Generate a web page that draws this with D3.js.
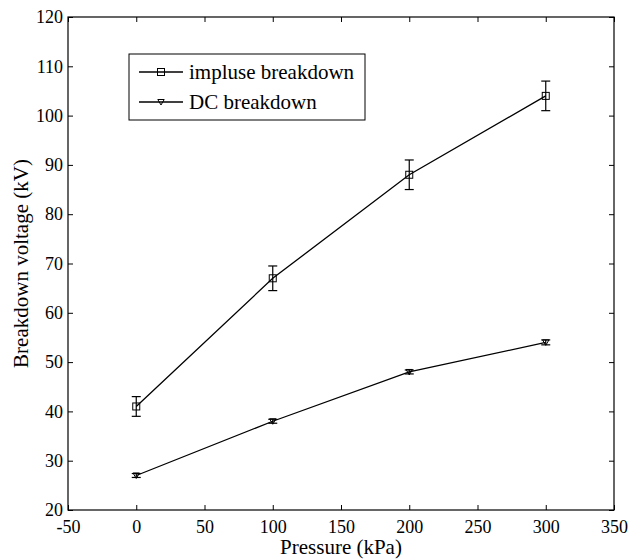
<!DOCTYPE html>
<html><head><meta charset="utf-8">
<script src="https://cdn.jsdelivr.net/npm/d3@7"></script>
<style>body{margin:0;background:#fff}svg{display:block}text{font-family:"Liberation Serif","Times New Roman",serif;fill:#000}</style>
</head><body><svg id="c" width="632" height="560"></svg>
<script>
const pressure = [0, 100, 200, 300];
const impulse = [41, 67, 88, 104];
const impulseErr = [2, 2.5, 3, 3];
const dc = [27, 38, 48, 54];
const dcErr = [0.4, 0.4, 0.4, 0.5];
const xTicks = [-50, 0, 50, 100, 150, 200, 250, 300, 350];
const yTicks = [20, 30, 40, 50, 60, 70, 80, 90, 100, 110, 120];
const seriesNames = ["impluse breakdown", "DC breakdown"];

const svg = d3.select("#c");
const L = 68, R = 614, T = 17, B = 510;
const x = d3.scaleLinear().domain([-50, 350]).range([L, R]);
const y = d3.scaleLinear().domain([20, 120]).range([B, T]);
const fmt = d => String(d);
const serif = "'Liberation Serif', 'Times New Roman', serif";

const g = svg.append("g");
g.append("g").attr("transform", `translate(0,${B})`)
  .call(d3.axisBottom(x).tickValues(xTicks).tickSize(-5).tickPadding(10).tickFormat(fmt));
g.append("g").attr("transform", `translate(${L},0)`)
  .call(d3.axisLeft(y).tickValues(yTicks).tickSize(-5).tickPadding(5).tickFormat(fmt));
g.append("g").attr("transform", `translate(0,${T})`)
  .call(d3.axisTop(x).tickValues(xTicks).tickSize(-5).tickFormat(""));
g.append("g").attr("transform", `translate(${R},0)`)
  .call(d3.axisRight(y).tickValues(yTicks).tickSize(-5).tickFormat(""));
g.selectAll("g").attr("font-family", serif).attr("font-size", 18);
g.selectAll(".domain").remove();
g.selectAll(".tick line").attr("stroke", "#000").attr("stroke-width", 1);
g.selectAll(".tick text").attr("font-family", serif).style("font-family", serif).style("font-size", "18px");
svg.append("rect").attr("x", L).attr("y", T).attr("width", R - L).attr("height", B - T)
  .attr("fill", "none").attr("stroke", "#000").attr("stroke-width", 1.2);

function drawSeries(vals, errs, marker) {
  const data = pressure.map((p, i) => ({p, v: vals[i], e: errs[i]}));
  svg.append("path").datum(data)
    .attr("d", d3.line().x(d => x(d.p)).y(d => y(d.v)))
    .attr("fill", "none").attr("stroke", "#000").attr("stroke-width", 1.3);
  const eb = svg.append("g").attr("stroke", "#000").attr("stroke-width", 1.2);
  data.forEach(d => {
    const cx = x(d.p), y1 = y(d.v + d.e), y0 = y(d.v - d.e);
    eb.append("line").attr("x1", cx).attr("x2", cx).attr("y1", y1).attr("y2", y0);
    eb.append("line").attr("x1", cx - 4.5).attr("x2", cx + 4.5).attr("y1", y1).attr("y2", y1);
    eb.append("line").attr("x1", cx - 4.5).attr("x2", cx + 4.5).attr("y1", y0).attr("y2", y0);
  });
  data.forEach(d => marker(svg, x(d.p), y(d.v)));
}
function square(s, cx, cy) {
  s.append("rect").attr("x", cx - 3.5).attr("y", cy - 3.5).attr("width", 7).attr("height", 7)
    .attr("fill", "none").attr("stroke", "#000").attr("stroke-width", 1);
}
function tri(s, cx, cy) {
  s.append("path").attr("d", `M${cx-3.2},${cy-2.5}L${cx+3.2},${cy-2.5}L${cx},${cy+3}Z`)
    .attr("fill", "none").attr("stroke", "#000").attr("stroke-width", 1);
}
drawSeries(impulse, impulseErr, square);
drawSeries(dc, dcErr, tri);

const lg = svg.append("g");
lg.append("rect").attr("x", 129).attr("y", 54).attr("width", 236).attr("height", 66)
  .attr("fill", "#fff").attr("stroke", "#000").attr("stroke-width", 1);
const markers = [square, tri];
seriesNames.forEach((n, i) => {
  const yy = 72 + i * 30;
  lg.append("line").attr("x1", 139).attr("x2", 183).attr("y1", yy).attr("y2", yy)
    .attr("stroke", "#000").attr("stroke-width", 1.3);
  markers[i](lg, 161, yy);
  lg.append("text").attr("x", 189).attr("y", yy).attr("dy", "0.33em")
    .style("font-size", "21px").text(n);
});

svg.append("text").attr("x", (L + R) / 2).attr("y", 554).attr("text-anchor", "middle")
  .style("font-size", "21px").text("Pressure (kPa)");
svg.append("text").attr("transform", `translate(28,${(T + B) / 2}) rotate(-90)`)
  .attr("text-anchor", "middle").style("font-size", "21px").text("Breakdown voltage (kV)");
</script></body></html>
